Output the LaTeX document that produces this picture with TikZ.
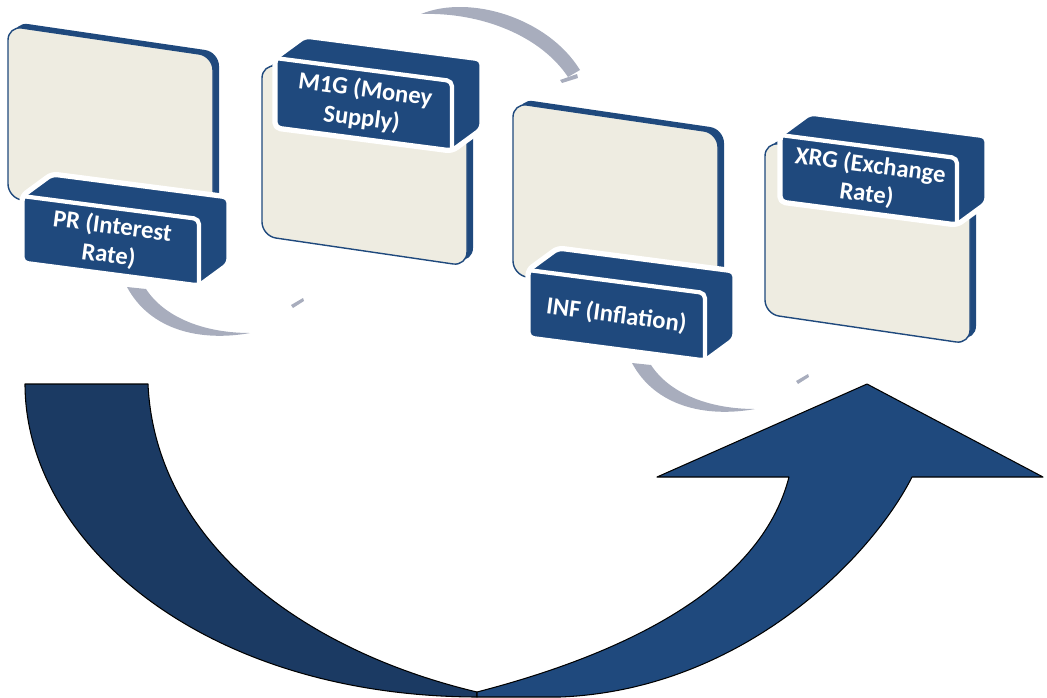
\documentclass[tikz,border=0pt]{standalone}
\usepackage{fontspec}
\setmainfont{Carlito}
\usetikzlibrary{calc}
\definecolor{navy}{HTML}{1F497D}
\definecolor{deepnavy}{HTML}{1B3A63}
\definecolor{cream}{HTML}{EEECE1}
\definecolor{mist}{HTML}{A8ADBD}

% panel: cream card with a blue back edge (top-left corner at #1,#2)
\newcommand{\cardpanel}[2]{%
  \fill[navy, rounded corners=8pt] (#1+6,#2-4) -- ++(205,30) -- ++(0,172) -- ++(-205,-30) -- cycle;
  \filldraw[fill=cream, draw=navy, line width=0.8pt, rounded corners=8pt]
    (#1,#2) -- ++(205,30) -- ++(0,172) -- ++(-205,-30) -- cycle;}

% label block: name, front top-left x, y, height, text
\newcommand{\tagblock}[5]{%
  \fill[navy, draw=white, line width=3pt, line join=round, rounded corners=3pt]
    (#2,#3) -- ++(30,-22) -- ++(177,23) -- ++(0,#4) -- ++(-30,22) -- ++(-177,-23) -- cycle;
  \draw[white, line width=2.4pt, rounded corners=3pt]
    (#2,#3) -- ++(177,23) -- ++(0,#4);
  \node[tagtext] (#1) at ($(#2,#3)+(88.5,11.5+#4/2)$) {#5};}

% grey crescent between two cards
\newcommand{\grayarc}[2]{%
  \begin{scope}[shift={(#1,#2)}]
    \fill[mist] (127,287) .. controls (150,330) and (200,342) .. (250,333)
      .. controls (205,333) and (165,318) .. (146,289) -- cycle;
    \fill[mist] (291,305) -- (303,298) -- (304,301) -- (293,308) -- cycle;
  \end{scope}}

\begin{document}
\begin{tikzpicture}[
  x=0.02cm, y=-0.02cm,
  tagtext/.style={text=white, align=center, rotate=-7.4, inner sep=0pt,
                  font=\bfseries\fontsize{14}{16.5}\selectfont},
  bigarrow/.style={draw=black, line width=0.6pt, line join=round},
]
\useasboundingbox (0,0) rectangle (1047,697);

% ---- Grey connecting arcs ---------------------------------------------------
\grayarc{0}{0}
\grayarc{505}{76}
\fill[mist] (421,14) .. controls (470,-6) and (548,18) .. (580,70)
  -- (568,77) .. controls (540,35) and (480,12) .. (421,14) -- cycle;
\fill[mist] (560,80) -- (577,74) -- (578,78) -- (562,83) -- cycle;

% ---- Cards ------------------------------------------------------------------
\cardpanel{8}{26}
\tagblock{pr}{22}{196}{67}{PR (Interest\\ Rate)}

\cardpanel{262}{64}
\tagblock{mg}{275}{58}{70}{M1G (Money\\ Supply)}

\cardpanel{513}{103}
\tagblock{inf}{528}{270}{68}{INF (Inflation)}

\cardpanel{765}{142}
\tagblock{xrg}{780}{135}{67}{XRG (Exchange\\ Rate)}

% ---- Big U-turn arrow -------------------------------------------------------
\filldraw[bigarrow, fill=deepnavy]
  (25,384) -- (148,384) .. controls (155,540) and (300,650) .. (477,692)
  -- (477,697) .. controls (200,696) and (25,540) .. (25,384) -- cycle;
\filldraw[bigarrow, fill=navy]
  (477,692) .. controls (620,655) and (760,590) .. (789,477)
  -- (657,477) -- (867,384) -- (1043,477) -- (912,477)
  .. controls (870,560) and (740,690) .. (560,697) -- (477,697) -- cycle;

\end{tikzpicture}
\end{document}
